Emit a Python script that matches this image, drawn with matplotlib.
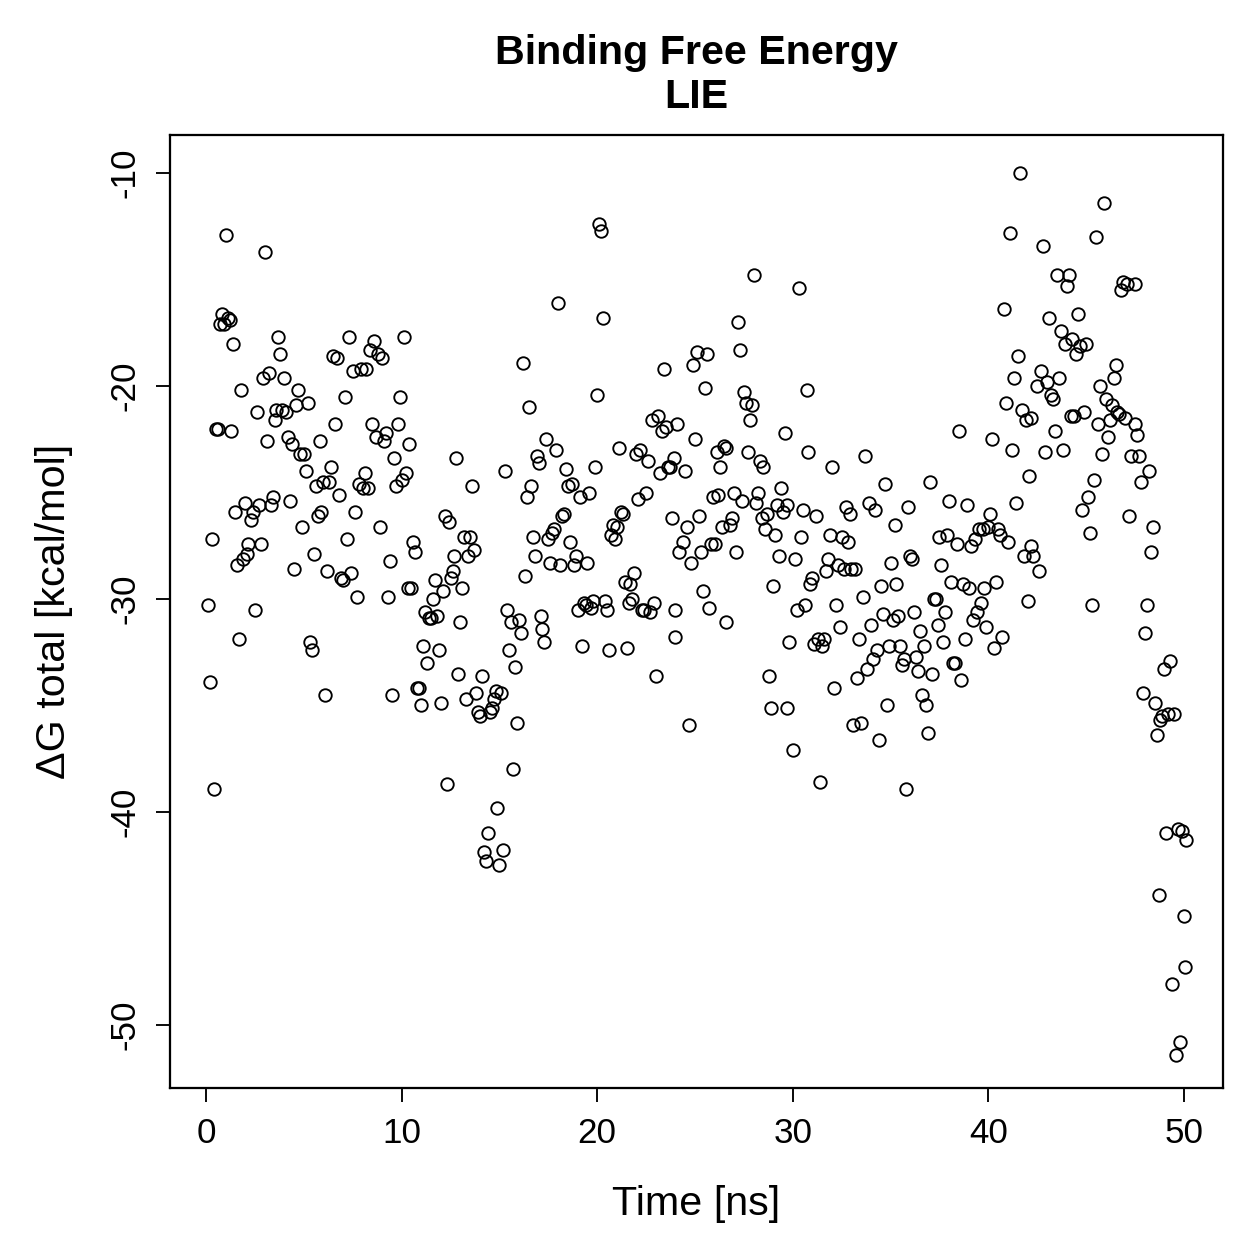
"""Binding free energy (LIE) over simulation time, R-style scatter"""

import numpy as np
import matplotlib.pyplot as plt

plt.rcParams["font.family"] = ["Liberation Sans", "DejaVu Sans"]

# Time [ns] and dG total [kcal/mol]
time_ns = [
    0.1, 0.2, 0.3, 0.4, 0.5, 0.6, 0.7, 0.8, 0.9, 1.0, 1.1, 1.2, 1.25, 1.4,
    1.5, 1.6, 1.7, 1.8, 1.9, 2.0, 2.1, 2.15, 2.3, 2.4, 2.5, 2.6, 2.7, 2.8, 2.9, 3.0,
    3.1, 3.2, 3.3, 3.4, 3.5, 3.6, 3.7, 3.8, 3.9, 4.0, 4.1, 4.2, 4.3, 4.4, 4.5, 4.6,
    4.7, 4.8, 4.9, 5.0,
    5.1, 5.2, 5.3, 5.4, 5.5, 5.6, 5.7, 5.8, 5.9, 6.0, 6.1, 6.2, 6.3, 6.4, 6.5, 6.6,
    6.7, 6.8, 6.9, 7.0, 7.1, 7.2, 7.3, 7.4, 7.5, 7.6, 7.7, 7.8, 7.9, 8.0, 8.1, 8.2,
    8.3, 8.4, 8.5, 8.6, 8.7, 8.8, 8.9, 9.0, 9.1, 9.2, 9.3, 9.4, 9.5, 9.6, 9.7, 9.8,
    9.9, 10.0, 10.1, 10.2,
    10.3, 10.4, 10.5, 10.6, 10.7, 10.8, 10.9, 11.0, 11.1, 11.2, 11.3, 11.4, 11.5,
    11.6, 11.7, 11.8, 11.9, 12.0, 12.1, 12.2, 12.3, 12.4, 12.5, 12.6, 12.7, 12.8,
    12.9, 13.0, 13.1, 13.2, 13.3, 13.4, 13.5, 13.6, 13.7, 13.8, 13.9, 14.0, 14.1,
    14.2, 14.3, 14.4, 14.5, 14.6, 14.7, 14.8, 14.9, 15.0, 15.1,
    15.2, 15.3, 15.4, 15.5, 15.6, 15.7, 15.8, 15.9, 16.0, 16.1, 16.2, 16.3, 16.4,
    16.5, 16.6, 16.7, 16.8, 16.9, 17.0, 17.1, 17.2, 17.3, 17.4, 17.5, 17.6, 17.7,
    17.8, 17.9, 18.0, 18.1, 18.2, 18.3, 18.4, 18.5, 18.6, 18.7, 18.8, 18.9, 19.0,
    19.1, 19.2, 19.3, 19.4, 19.5, 19.6, 19.7, 19.8, 19.9, 20.0, 20.1,
    20.2, 20.3, 20.4, 20.5, 20.6, 20.7, 20.8, 20.9, 21.0, 21.1, 21.2, 21.3, 21.4,
    21.5, 21.6, 21.7, 21.8, 21.9, 22.0, 22.1, 22.2, 22.3, 22.4, 22.5, 22.6, 22.7,
    22.8, 22.9, 23.0, 23.1, 23.2, 23.3, 23.4, 23.5, 23.6, 23.7, 23.8, 23.9, 24.0,
    24.1, 24.2, 24.0, 24.4, 24.5, 24.6, 24.7, 24.8, 24.9, 25.0, 25.1, 25.2,
    25.3, 25.4, 25.5, 25.6, 25.7, 25.8, 25.9, 26.0, 26.1, 26.2, 26.3, 26.4, 26.5,
    26.6, 26.6, 26.8, 26.9, 27.0, 27.1, 27.2, 27.3, 27.4, 27.5, 27.6, 27.7, 27.8,
    27.9, 28.0, 28.1, 28.2, 28.3, 28.4, 28.5, 28.6, 28.7, 28.8, 28.9, 29.0, 29.1,
    29.2, 29.3, 29.4, 29.5, 29.6, 29.7, 29.7, 29.8, 30.0, 30.1,
    30.2, 30.3, 30.4, 30.5, 30.6, 30.7, 30.8, 30.9, 31.0, 31.1, 31.2, 31.3, 31.4,
    31.5, 31.6, 31.7, 31.8, 31.9, 32.0, 32.1, 32.2, 32.3, 32.4, 32.5, 32.6, 32.7,
    32.8, 32.9, 33.0, 33.1, 33.2, 33.3, 33.4, 33.5, 33.6, 33.7, 33.8, 33.9, 34.0,
    34.1, 34.2, 34.3, 34.4, 34.5, 34.6, 34.7, 34.8, 34.9, 35.0, 35.1, 35.2,
    35.3, 35.4, 35.5, 35.6, 35.7, 35.8, 35.9, 36.0, 36.1, 36.2, 36.3, 36.4, 36.5,
    36.6, 36.7, 36.8, 36.9, 37.0, 37.1, 37.2, 37.3, 37.4, 37.5, 37.6, 37.7, 37.8,
    37.9, 38.0, 38.1, 38.2, 38.3, 38.4, 38.5, 38.6, 38.7, 38.8, 38.9, 39.0, 39.1,
    39.2, 39.3, 39.4, 39.5, 39.6, 39.7, 39.8, 39.9, 40.0, 40.1, 40.2,
    40.3, 40.4, 40.5, 40.6, 40.7, 40.8, 40.9, 41.0, 41.1, 41.2, 41.3, 41.4, 41.5,
    41.6, 41.7, 41.8, 41.9, 42.0, 42.1, 42.2, 42.3, 42.2, 42.5, 42.6, 42.7, 42.8,
    42.9, 43.0, 43.1, 43.2, 43.3, 43.4, 43.5, 43.6, 43.7, 43.8, 43.9, 44.0, 44.2,
    44.1, 44.3, 44.4, 44.5, 44.6, 44.7, 44.8, 44.9, 45.0, 45.1, 45.2,
    45.3, 45.4, 45.5, 45.6, 45.7, 45.8, 45.9, 46.0, 46.1, 46.2, 46.3, 46.4, 46.5,
    46.6, 46.7, 46.8, 46.9, 47.0, 47.1, 47.2, 47.3, 47.5, 47.6, 47.5, 47.7, 47.8,
    47.9, 48.0, 48.1, 48.2, 48.3, 48.4, 48.5, 48.6, 48.7, 48.8, 48.9, 49.0, 49.1,
    49.2, 49.3, 49.4, 49.5, 49.6, 49.7, 49.8, 49.9, 50.0, 50.05, 50.1,
]

dg_total = [
    -30.3, -33.9, -27.2, -38.9, -22.0, -22.0, -17.1, -16.6, -17.1, -12.9, -16.8, -16.9, -22.1, -18.0,
    -25.9, -28.4, -31.9, -20.2, -28.1, -25.5, -27.9, -27.4, -26.3, -25.9, -30.5, -21.2, -25.6, -27.4, -19.6, -13.7,
    -22.6, -19.4, -25.6, -25.2, -21.6, -21.1, -17.7, -18.5, -21.1, -19.6, -21.2, -22.4, -25.4, -22.7, -28.6, -20.9,
    -20.2, -23.2, -26.6, -23.2,
    -24.0, -20.8, -32.0, -32.4, -27.9, -24.7, -26.1, -22.6, -25.9, -24.5, -34.5, -28.7, -24.5, -23.8, -18.6, -21.8,
    -18.7, -25.1, -29.0, -29.1, -20.5, -27.2, -17.7, -28.8, -19.3, -25.9, -29.9, -24.6, -19.2, -24.8, -24.1, -19.2,
    -24.8, -18.3, -21.8, -17.9, -22.4, -18.5, -26.6, -18.7, -22.6, -22.2, -29.9, -28.2, -34.5, -23.4, -24.7, -21.8,
    -20.5, -24.4, -17.7, -24.1,
    -29.5, -22.7, -29.5, -27.3, -27.8, -34.2, -34.2, -35.0, -32.2, -30.6, -33.0, -30.9, -30.9,
    -30.0, -29.1, -30.8, -32.4, -34.9, -29.6, -26.1, -38.7, -26.4, -29.0, -28.7, -28.0, -23.4,
    -33.5, -31.1, -29.5, -27.1, -34.7, -28.0, -27.1, -24.7, -27.7, -34.4, -35.3, -35.5, -33.6,
    -41.9, -42.3, -41.0, -35.3, -35.1, -34.7, -34.3, -39.8, -42.5, -34.4,
    -41.8, -24.0, -30.5, -32.4, -31.1, -38.0, -33.2, -35.8, -31.0, -31.6, -18.9, -28.9, -25.2,
    -21.0, -24.7, -27.1, -28.0, -23.3, -23.6, -30.8, -31.4, -32.0, -22.5, -27.2, -28.3, -26.9,
    -26.7, -23.0, -16.1, -28.4, -26.1, -26.0, -23.9, -24.7, -27.3, -24.6, -28.4, -28.0, -30.5,
    -25.2, -32.2, -30.2, -30.3, -28.3, -25.0, -30.4, -30.1, -23.8, -20.4, -12.4,
    -12.7, -16.8, -30.1, -30.5, -32.4, -27.0, -26.5, -27.2, -26.6, -22.9, -25.9, -26.0, -29.2,
    -32.3, -30.2, -29.3, -30.0, -28.8, -23.2, -25.3, -23.0, -30.5, -30.5, -25.0, -23.5, -30.6,
    -21.6, -30.2, -33.6, -21.4, -24.1, -22.1, -19.2, -21.9, -23.8, -23.8, -26.2, -23.4, -31.8,
    -21.8, -27.8, -30.5, -27.3, -24.0, -26.6, -35.9, -28.3, -19.0, -22.5, -18.4, -26.1,
    -27.8, -29.6, -20.1, -18.5, -30.4, -27.4, -25.2, -27.4, -23.1, -25.1, -23.8, -26.6, -22.8,
    -22.9, -31.1, -26.5, -26.2, -25.0, -27.8, -17.0, -18.3, -25.4, -20.3, -20.8, -23.1, -21.6,
    -20.9, -14.8, -25.5, -25.0, -23.5, -26.2, -23.8, -26.7, -26.0, -33.6, -35.1, -29.4, -27.0,
    -25.6, -28.0, -24.8, -25.9, -22.2, -25.6, -35.1, -32.0, -37.1, -28.1,
    -30.5, -15.4, -27.1, -25.8, -30.3, -20.2, -23.1, -29.3, -29.0, -32.1, -26.1, -31.9, -38.6,
    -32.2, -31.9, -28.7, -28.1, -27.0, -23.8, -34.2, -30.3, -28.4, -31.3, -27.1, -28.6, -25.7,
    -27.3, -26.0, -28.6, -35.9, -28.6, -33.7, -31.9, -35.8, -29.9, -23.3, -33.3, -25.5, -31.2,
    -32.8, -25.8, -32.4, -36.6, -29.4, -30.7, -24.6, -35.0, -32.2, -28.3, -31.0, -26.5,
    -29.3, -30.8, -32.2, -33.1, -32.8, -38.9, -25.7, -28.0, -28.1, -30.6, -32.7, -33.4, -31.5,
    -34.5, -32.2, -35.0, -36.3, -24.5, -33.5, -30.0, -30.0, -31.2, -27.1, -28.4, -32.0, -30.6,
    -27.0, -25.4, -29.2, -33.0, -33.0, -27.4, -22.1, -33.8, -29.3, -31.9, -25.6, -29.5, -27.5,
    -31.0, -27.2, -30.6, -26.7, -30.2, -26.7, -29.5, -31.3, -26.6, -26.0, -22.5,
    -32.3, -29.2, -26.7, -27.0, -31.8, -16.4, -20.8, -27.3, -12.8, -23.0, -19.6, -25.5, -18.6,
    -10.0, -21.1, -28.0, -21.6, -30.1, -24.2, -21.5, -28.0, -27.5, -20.0, -28.7, -19.3, -13.4,
    -23.1, -19.8, -16.8, -20.4, -20.6, -22.1, -14.8, -19.6, -17.4, -23.0, -18.0, -15.3, -21.4,
    -14.8, -17.8, -21.4, -18.5, -16.6, -18.1, -25.8, -21.2, -18.0, -25.2, -26.9,
    -30.3, -24.4, -13.0, -21.8, -20.0, -23.2, -11.4, -20.6, -22.4, -21.6, -20.9, -19.6, -19.0,
    -21.2, -21.3, -15.5, -15.1, -21.5, -15.2, -26.1, -23.3, -21.8, -22.3, -15.2, -23.3, -24.5,
    -34.4, -31.6, -30.3, -24.0, -27.8, -26.6, -34.9, -36.4, -43.9, -35.7, -35.5, -33.3, -41.0,
    -35.4, -32.9, -48.1, -35.4, -51.4, -40.8, -50.8, -40.9, -44.9, -47.3, -41.3,
]

x_ticks = [0, 10, 20, 30, 40, 50]
y_ticks = [-50, -40, -30, -20, -10]

fig = plt.figure(figsize=(7, 7), dpi=180)
ax = fig.add_axes([0.135, 0.1366, 0.8357, 0.7562])

ax.plot(time_ns, dg_total, linestyle="none", marker="o", markersize=5.0,
        markerfacecolor="none", markeredgecolor="black", markeredgewidth=0.75)

ax.set_xlim(-1.84, 52.0)
ax.set_ylim(-52.96, -8.21)
ax.set_xticks(x_ticks)
ax.set_yticks(y_ticks)
ax.set_yticklabels([str(v) for v in y_ticks], rotation=90, va="center")
ax.tick_params(direction="out", length=5.6, width=0.75, labelsize=14, pad=6)
for side in ax.spines.values():
    side.set_linewidth(0.9)

ax.set_xlabel("Time [ns]", fontsize=16.5, labelpad=14)
ax.set_ylabel("\u0394G total [kcal/mol]", fontsize=16.5, labelpad=14)
ax.set_title("Binding Free Energy\nLIE", fontsize=16.5, fontweight="bold", pad=11)

fig.savefig("out.png", dpi=180, facecolor="white")
